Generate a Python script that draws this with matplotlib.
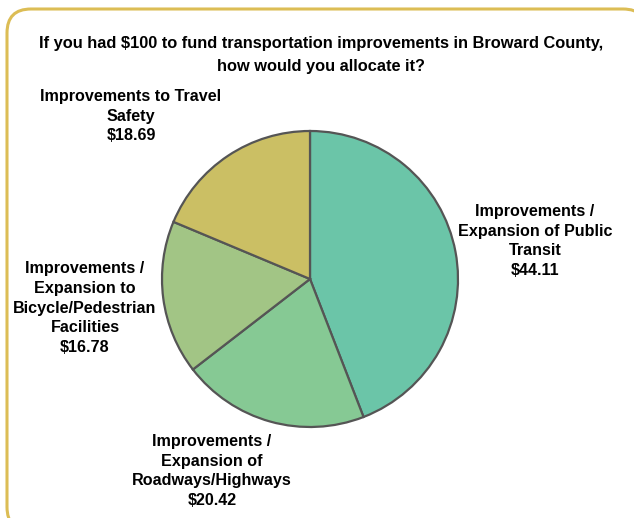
import matplotlib
matplotlib.use('Agg')
import matplotlib.pyplot as plt
from matplotlib.patches import FancyBboxPatch

# allocation of the $100 (clockwise from 12 o'clock)
categories = ['Improvements /\nExpansion of Public\nTransit',
              'Improvements /\nExpansion of\nRoadways/Highways',
              'Improvements /\nExpansion to\nBicycle/Pedestrian\nFacilities',
              'Improvements to Travel\nSafety']
amounts = [44.11, 20.42, 16.78, 18.69]
colors = ['#6bc5a8', '#86c994', '#a2c585', '#cbbf64']

# label anchor points in pixel space (x, y from top-left)
label_pos = [(535, 241), (212, 471), (85, 308), (131, 116)]

plt.rcParams['font.family'] = ['Liberation Sans', 'DejaVu Sans']

W, H = 634, 518
fig = plt.figure(figsize=(W / 100, H / 100), dpi=100)
fig.patch.set_facecolor('white')

# background layer in pixel units for the frame and the texts
bg = fig.add_axes([0, 0, 1, 1])
bg.set_xlim(0, W)
bg.set_ylim(H, 0)
bg.axis('off')

frame = FancyBboxPatch((7, 9), 640, 522, boxstyle='round,pad=0,rounding_size=24',
                       facecolor='white', edgecolor='#dcbd55', linewidth=2.2,
                       clip_on=False)
bg.add_patch(frame)

bg.text(321, 55, 'If you had $100 to fund transportation improvements in Broward County,\nhow would you allocate it?',
        ha='center', va='center', fontsize=11.8, fontweight='bold', linespacing=1.63)

for (x, y), name, val in zip(label_pos, categories, amounts):
    bg.text(x, y, f'{name}\n${val:.2f}', ha='center', va='center',
            fontsize=11.6, fontweight='bold', linespacing=1.4)

# pie, centred at (310, 279) px with a radius of 148 px
cx, cy, r = 310, 279, 148
ax = fig.add_axes([(cx - r) / W, (H - cy - r) / H, 2 * r / W, 2 * r / H])
ax.pie(amounts, colors=colors, startangle=90, counterclock=False,
       wedgeprops=dict(edgecolor='#555555', linewidth=1.6))
ax.set_xlim(-1, 1)
ax.set_ylim(-1, 1)
ax.set_aspect('equal')
ax.axis('off')

fig.savefig('out.png', dpi=100)
